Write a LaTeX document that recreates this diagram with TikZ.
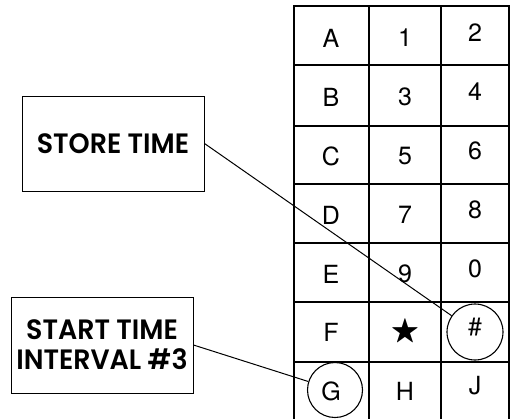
\documentclass[tikz,border=0pt]{standalone}
\usepackage{amssymb}
\usepackage{fontspec}
\setmainfont{TeX Gyre Heros}
\newfontfamily\labelfont[FakeStretch=0.96]{Poppins SemiBold}
\begin{document}
\begin{tikzpicture}[x=1pt,y=-1pt]
	\tikzset{keytext/.style={font=\fontsize{25}{25}\selectfont},
		lbl/.style={draw,line width=1pt,font=\labelfont\fontsize{28}{30}\selectfont,align=center,inner sep=0pt},
		ring/.style={draw,circle,line width=1.1pt,minimum size=56pt,inner sep=0pt},
		grid/.style={line width=1.5pt}}
	\useasboundingbox(0,0)rectangle(511,418);
	% keypad
	\draw[grid](294,424)--(294,6)--(509,6)--(509,424);
	\foreach \x in {369,441}
	\draw[grid](\x,6)--(\x,424);
	\foreach \y in {65,126,184,243,302,362}
	\draw[grid](294,\y)--(509,\y);
	\foreach \n/\y/\a/\b/\c in {1/38/A/1/2,2/97/B/3/4,3/156/C/5/6,4/215/D/7/8,5/274/E/9/0,6/332/F/{\scalebox{1.2}{$\bigstar$}}/\#,7/391/G/H/J}{
		\path(331,\y)node[keytext](a\n){\a}(405,\y)node[keytext](b\n){\b}(475,\y-5)node[keytext](c\n){\c};
	}
	\node[ring](hash)at(475,332){};
	\node[ring,minimum size=55pt](gkey)at(335,390){};
	% labels
	\node[lbl,minimum width=182pt,minimum height=95pt](store)at(113,143.5){STORE TIME};
	\node[lbl,minimum width=182pt,minimum height=96pt](start)at(102,345){START TIME\\INTERVAL \#3};
	\draw[line width=1pt](store.east)--(hash);
	\draw[line width=1pt](start.east)--(gkey);
\end{tikzpicture}
\end{document}
